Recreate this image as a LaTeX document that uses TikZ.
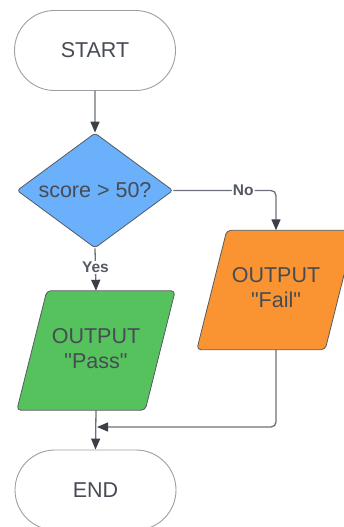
\documentclass[tikz,border=0pt]{standalone}
\usepackage{fontspec}
\setmainfont{Liberation Sans}[Ligatures=TeXOff]
\usetikzlibrary{shapes.misc,shapes.geometric,arrows.meta}
\pgfdeclarelayer{bg}
\pgfsetlayers{bg,main}
\definecolor{txt}{HTML}{474C54}
\definecolor{outl}{HTML}{9AA0A6}
\definecolor{conn}{HTML}{6B7078}
\definecolor{tip}{HTML}{3B4048}
\definecolor{edge}{HTML}{555A62}
\definecolor{bluef}{HTML}{6AB0FA}
\definecolor{greenf}{HTML}{55C25E}
\definecolor{orangef}{HTML}{FA9432}
\newcommand{\twolines}[2]{\raisebox{3pt}{\begin{tabular}{@{}c@{}}#1\\#2\end{tabular}}}
\tikzset{
  term/.style={rounded rectangle, draw=outl, line width=0.9pt, minimum width=161pt, minimum height=80pt, inner sep=0pt, text=txt, font=\fontsize{21.5}{25}\selectfont},
  dec/.style={diamond, draw=edge, line width=0.8pt, fill=bluef, minimum width=156pt, minimum height=115pt, inner sep=0pt, rounded corners=3pt, text=txt, font=\fontsize{21.5}{25}\selectfont},
  iobox/.style={rectangle, minimum width=128pt, minimum height=119pt, inner sep=0pt, align=center, text=txt, font=\fontsize{21.5}{25}\selectfont},
  ioshape/.style={draw=edge, line width=0.8pt, rounded corners=4pt},
  conline/.style={draw=conn, line width=1.3pt, -{Triangle[length=11pt,width=9pt,color=tip]}},
  lbl/.style={fill=white, inner sep=1pt, text=edge, font=\fontsize{15.5}{18}\selectfont\bfseries},
}
\begin{document}
\begin{tikzpicture}[x=1pt,y=-1pt]
\useasboundingbox (0,0) rectangle (344,527);
\node[term] (start) at (95,50.5) {START};
\node[dec] (dec) at (95,190.5) {\makebox[0pt]{score > 50?}};
\node[iobox] (pass) at (96,350.5) {\twolines{OUTPUT}{"Pass"}};
\node[iobox] (fail) at (276,290) {\twolines{OUTPUT}{"Fail"}};
\node[term] (end) at (95.5,490) {END};
\coordinate (join) at (97,427);
\begin{pgfonlayer}{bg}
\path[ioshape, fill=greenf] ([xshift=15pt]pass.north west) -- ([xshift=15pt]pass.north east) -- ([xshift=-15pt]pass.south east) -- ([xshift=-15pt]pass.south west) -- cycle;
\path[ioshape, fill=orangef] ([xshift=15pt]fail.north west) -- ([xshift=15pt]fail.north east) -- ([xshift=-15pt]fail.south east) -- ([xshift=-15pt]fail.south west) -- cycle;
\end{pgfonlayer}
\draw[conline] (start) -- (dec);
\draw[conline, rounded corners=5pt] (dec.east) -| node[lbl, pos=0.34] {No} (fail.north);
\draw[conline] (dec.south) -- node[lbl, pos=0.45] {Yes} (pass.north);
\draw[conline] (pass.south) -- (end.north);
\draw[conline, rounded corners=5pt] (fail.south) |- (join);
\end{tikzpicture}
\end{document}
